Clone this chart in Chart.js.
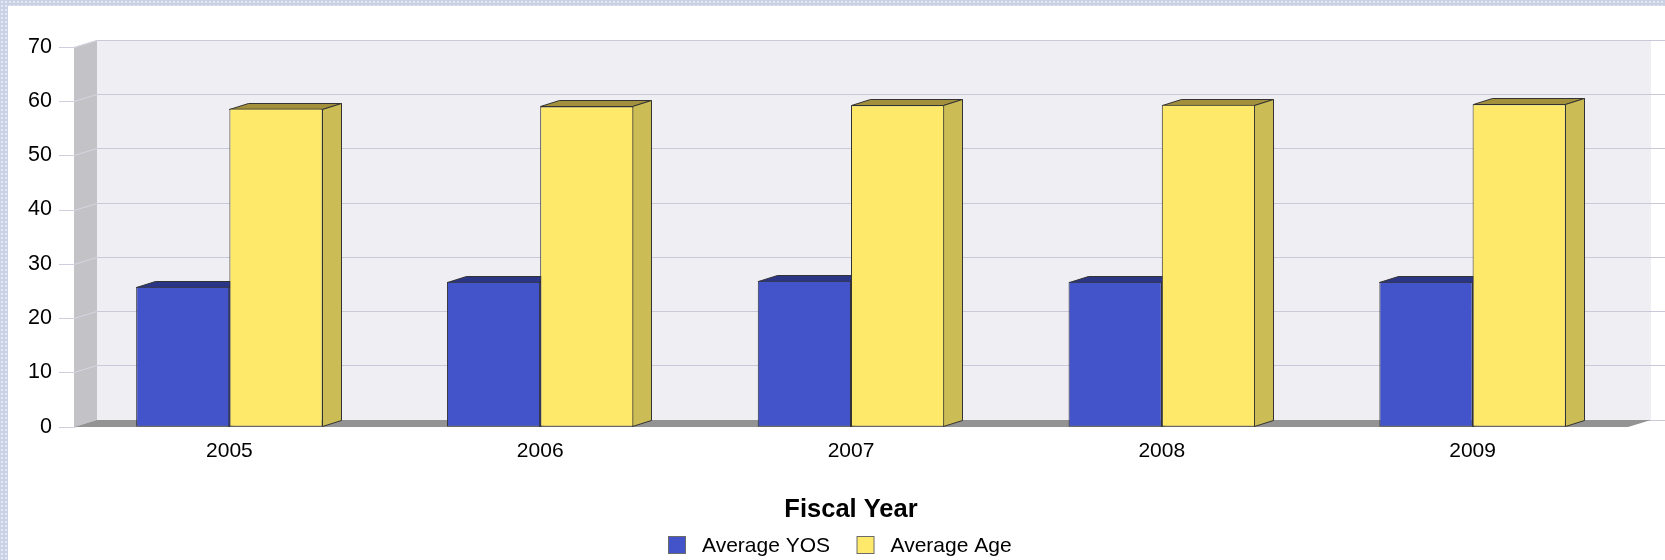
<!DOCTYPE html>
<html><head><meta charset="utf-8">
<script src="https://cdn.jsdelivr.net/npm/chart.js@4.4.1/dist/chart.umd.min.js"></script>
<style>
html,body{margin:0;padding:0;width:1665px;height:560px;overflow:hidden;}
body{background-color:#c9d2e4;background-image:radial-gradient(circle,#e3e8f2 1px,transparent 1.6px);background-size:4px 4px;}
#wrap{position:absolute;left:8px;top:6px;width:1657px;height:554px;background:#ffffff;}
canvas{display:block}
</style></head><body><div id="wrap"><canvas id="c" width="1657" height="554"></canvas></div>
<script>
const categories = ['2005', '2006', '2007', '2008', '2009'];
const averageYOS = [25.8, 26.7, 26.9, 26.7, 26.7];
const averageAge = [58.6, 59.0, 59.2, 59.3, 59.4];
const seriesNames = ['Average YOS', 'Average Age'];
const yTickValues = [0, 10, 20, 30, 40, 50, 60, 70];
const xTitle = 'Fiscal Year';

const FONT = "'Liberation Sans', Arial, sans-serif";
const FACE = ['#4353c9', '#fee96a'];
const TOP = ['#2b3585', '#a3903d'];
const SIDE = ['#3441a0', '#ccbc55'];
const EDGE = '#333333';
const WALL_DX = 23, WALL_DY = 7, BAR_DX = 19, BAR_DY = 6;

function poly(ctx, pts) {
  ctx.beginPath();
  ctx.moveTo(pts[0][0], pts[0][1]);
  for (let i = 1; i < pts.length; i++) ctx.lineTo(pts[i][0], pts[i][1]);
  ctx.closePath();
}

const threeD = {
  id: 'threeD',
  beforeDatasetsDraw(chart) {
    const ctx = chart.ctx;
    const {left, right} = chart.chartArea;
    const y = chart.scales.y;
    const yTop = Math.round(y.getPixelForValue(y.max));
    const yBot = Math.round(y.getPixelForValue(y.min));
    ctx.save();
    // back wall
    ctx.fillStyle = '#eeeef3';
    ctx.fillRect(left + WALL_DX, yTop - WALL_DY, right - left, yBot - yTop);
    // left wall
    ctx.fillStyle = '#c3c3c7';
    poly(ctx, [[left, yTop], [left + WALL_DX, yTop - WALL_DY], [left + WALL_DX, yBot - WALL_DY], [left, yBot]]);
    ctx.fill();
    // grid lines
    ctx.lineWidth = 1;
    yTickValues.forEach(v => {
      const p = Math.round(y.getPixelForValue(v)) + 0.5;
      ctx.strokeStyle = '#c9c9d9';
      ctx.beginPath();
      ctx.moveTo(left + WALL_DX, p - WALL_DY);
      ctx.lineTo(chart.width, p - WALL_DY);
      ctx.stroke();
      ctx.strokeStyle = '#d6d6e3';
      ctx.beginPath();
      ctx.moveTo(left, p);
      ctx.lineTo(left + WALL_DX, p - WALL_DY);
      ctx.stroke();
      ctx.strokeStyle = '#cfcfdd';
      ctx.beginPath();
      ctx.moveTo(left - 15, p);
      ctx.lineTo(left, p);
      ctx.stroke();
    });
    // floor
    ctx.fillStyle = '#939393';
    poly(ctx, [[left, yBot], [left + WALL_DX, yBot - WALL_DY], [right + WALL_DX, yBot - WALL_DY], [right, yBot]]);
    ctx.fill();
    // bar extrusions
    ctx.strokeStyle = EDGE;
    ctx.lineJoin = 'miter';
    chart.data.datasets.forEach((ds, i) => {
      const meta = chart.getDatasetMeta(i);
      meta.data.forEach(bar => {
        const p = bar.getProps(['x', 'y', 'base', 'width'], true);
        const x0 = Math.round(p.x - p.width / 2) + 0.5, x1 = Math.round(p.x + p.width / 2) - 0.5;
        const t = Math.round(p.y) + 0.5, b = Math.round(p.base) - 0.5;
        ctx.fillStyle = TOP[i];
        poly(ctx, [[x0, t], [x1, t], [x1 + BAR_DX, t - BAR_DY], [x0 + BAR_DX, t - BAR_DY]]);
        ctx.fill(); ctx.stroke();
        ctx.fillStyle = SIDE[i];
        poly(ctx, [[x1, t], [x1 + BAR_DX, t - BAR_DY], [x1 + BAR_DX, b - BAR_DY], [x1, b]]);
        ctx.fill(); ctx.stroke();
      });
    });
    ctx.restore();
  },
  afterDraw(chart) {
    // legend
    const ctx = chart.ctx;
    ctx.save();
    ctx.font = '21px ' + FONT;
    ctx.textBaseline = 'middle';
    ctx.textAlign = 'left';
    let x = 660.5;
    const boxTop = 530.5, box = 17;
    seriesNames.forEach((name, i) => {
      ctx.fillStyle = FACE[i];
      ctx.fillRect(x, boxTop, box, box);
      ctx.strokeStyle = '#6b6b6b';
      ctx.lineWidth = 1;
      ctx.strokeRect(x, boxTop, box, box);
      ctx.fillStyle = '#000';
      const tx = x + box + 16.5;
      ctx.fillText(name, tx, boxTop + box / 2 + 1);
      x = tx + ctx.measureText(name).width + 27;
    });
    ctx.restore();
  }
};

new Chart(document.getElementById('c'), {
  type: 'bar',
  data: {
    labels: categories,
    datasets: [
      {label: seriesNames[0], data: averageYOS, backgroundColor: FACE[0], borderColor: EDGE, borderWidth: 1, borderSkipped: false},
      {label: seriesNames[1], data: averageAge, backgroundColor: FACE[1], borderColor: EDGE, borderWidth: 1, borderSkipped: false}
    ]
  },
  options: {
    responsive: false,
    animation: false,
    devicePixelRatio: 1,
    layout: {padding: {left: 0, top: 40.7, right: 37, bottom: 0}},
    datasets: {bar: {categoryPercentage: 0.6, barPercentage: 1.0}},
    plugins: {legend: {display: false}, tooltip: {enabled: false}, title: {display: false}},
    scales: {
      x: {
        offset: true,
        grid: {display: false, drawTicks: false},
        border: {display: false},
        ticks: {color: '#000', font: {family: FONT, size: 21}, padding: 11.5},
        title: {display: true, text: xTitle, color: '#000', font: {family: FONT, size: 25.5, weight: 'bold'}, padding: {top: 0, bottom: 34.3}},
        afterFit(s) { s.height = 133.3; }
      },
      y: {
        min: 0, max: 70,
        grid: {display: false, drawTicks: false},
        border: {display: false},
        ticks: {stepSize: 10, color: '#000', font: {family: FONT, size: 21.5}, padding: 22},
        afterFit(s) { s.width = 66; }
      }
    }
  },
  plugins: [threeD]
});
</script></body></html>
